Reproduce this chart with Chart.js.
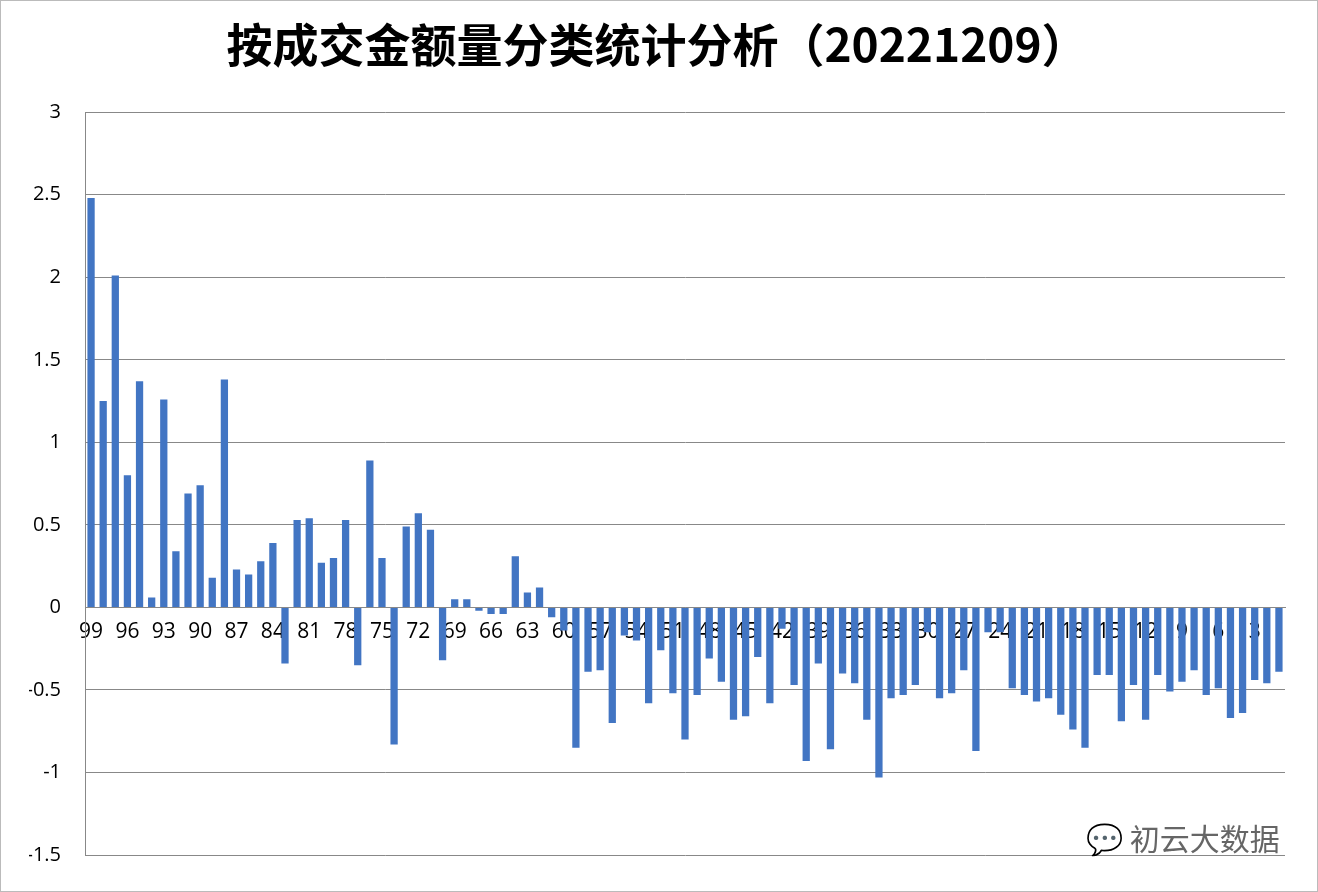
<!DOCTYPE html>
<html>
<head>
<meta charset="utf-8">
<script src="https://cdn.jsdelivr.net/npm/chart.js@4"></script>
<style>
  body { margin: 0; background: #fff; }
  #wrap { position: relative; width: 1318px; height: 892px; box-sizing: border-box; border: 1px solid #bbb; }
  #mark { position: absolute; left: 1085px; top: 814px; font: 30px "Noto Sans CJK SC", sans-serif; color: #666; }
</style>
</head>
<body>
<div id="wrap">
  <canvas id="chart" width="1316" height="890"></canvas>
  <div id="mark">&#x1F4AC; 初云大数据</div>
</div>
<script>
const categories = [];
for (let i = 99; i >= 1; i--) categories.push(String(i));

// values for categories 99 .. 1
const values = [
  2.48, 1.25, 2.01, 0.80, 1.37, 0.06, 1.26, 0.34, 0.69, 0.74,
  0.18, 1.38, 0.23, 0.20, 0.28, 0.39, -0.34, 0.53, 0.54, 0.27,
  0.30, 0.53, -0.35, 0.89, 0.30, -0.83, 0.49, 0.57, 0.47, -0.32,
  0.05, 0.05, -0.02, -0.04, -0.04, 0.31, 0.09, 0.12, -0.06, -0.14,
  -0.85, -0.39, -0.38, -0.70, -0.17, -0.20, -0.58, -0.26, -0.52, -0.80,
  -0.53, -0.31, -0.45, -0.68, -0.66, -0.30, -0.58, -0.13, -0.47, -0.93,
  -0.34, -0.86, -0.40, -0.46, -0.68, -1.03, -0.55, -0.53, -0.47, -0.15,
  -0.55, -0.52, -0.38, -0.87, -0.15, -0.15, -0.49, -0.53, -0.57, -0.55,
  -0.65, -0.74, -0.85, -0.41, -0.41, -0.69, -0.47, -0.68, -0.41, -0.51,
  -0.45, -0.38, -0.53, -0.49, -0.67, -0.64, -0.44, -0.46, -0.39
];
const yTicks = [3, 2.5, 2, 1.5, 1, 0.5, 0, -0.5, -1, -1.5];

new Chart(document.getElementById("chart"), {
  type: "bar",
  data: {
    labels: categories,
    datasets: [{
      data: values,
      backgroundColor: "#4275c3",
      barPercentage: 0.6,
      categoryPercentage: 1
    }]
  },
  options: {
    responsive: false,
    animation: false,
    layout: { padding: { left: 28, right: 32, bottom: 28 } },
    plugins: {
      legend: { display: false },
      tooltip: { enabled: false },
      title: {
        display: true,
        text: "按成交金额量分类统计分析（20221209）",
        color: "#000",
        font: { size: 46, weight: "bold", family: "'Noto Sans CJK SC', sans-serif" },
        padding: { top: 16, bottom: 40 }
      }
    },
    scales: {
      x: {
        position: { y: 0 },
        grid: { display: false },
        border: { color: "#888" },
        ticks: {
          autoSkip: false,
          maxRotation: 0,
          color: "#000",
          font: { size: 21, family: "'Open Sans', sans-serif" },
          padding: 4,
          callback: function (v, i) { return i % 3 === 0 ? categories[i] : ""; }
        }
      },
      y: {
        min: -1.5,
        max: 3,
        afterFit: function (s) { s.width = 56; },
        afterBuildTicks: function (s) { s.ticks = yTicks.map(v => ({ value: v })); },
        grid: { color: "#888", drawTicks: false },
        border: { color: "#888" },
        ticks: {
          color: "#000",
          padding: 24,
          font: { size: 20, family: "'Open Sans', sans-serif" },
          callback: function (v) { return String(v); }
        }
      }
    }
  }
});
</script>
</body>
</html>
